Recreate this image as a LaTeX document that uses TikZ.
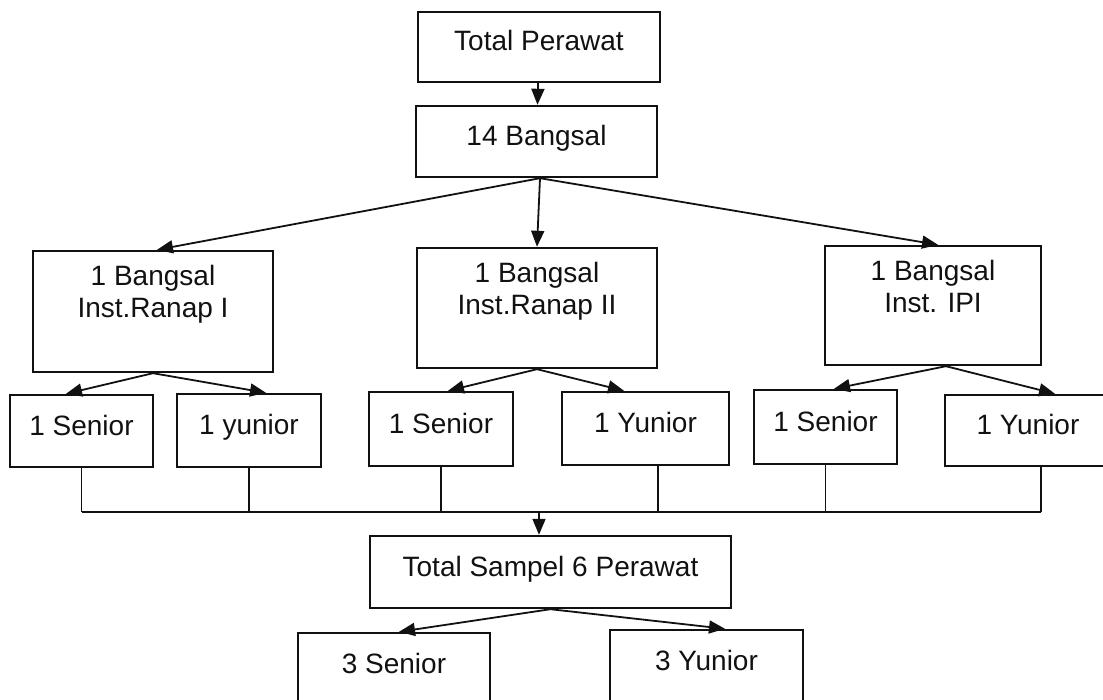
\documentclass[tikz,border=0pt]{standalone}
\usepackage{fontspec}
\setmainfont{Liberation Sans}
\usepackage{xcolor}
\usepackage{tikz}
\usetikzlibrary{positioning,arrows.meta}
\definecolor{ink}{HTML}{111111}

\begin{document}
\begin{tikzpicture}[x=0.5pt, y=-0.5pt, ink, line join=miter,
  box/.style 2 args={draw, line width=1.2pt, minimum width=#1, minimum height=#2, inner sep=0pt,
    font=\fontsize{14}{16}\selectfont, text height=10pt, text depth=6pt},
  boxtext/.style={anchor=north, inner sep=0pt, align=center, font=\fontsize{14}{16}\selectfont},
  arr/.style={-{Triangle[length=8pt,width=6.5pt]}, line width=0.9pt},
  link/.style={line width=0.9pt}]
  \useasboundingbox (0,0) rectangle (1103,700);
  \clip (0,0) rectangle (1103,700);
  % top of the tree
  \node[box={121pt}{35pt}] (tp) at (539,47) {Total Perawat};
  \node[box={120.5pt}{35.5pt}] (b14) at (536.5,141.5) {14 Bangsal};
  % three wards
  \node[box={120pt}{60.5pt}] (ri1) at (153,311.5) {};
  \node[box={120pt}{60pt}] (ri2) at (537,308) {};
  \node[box={108pt}{59.5pt}] (ipi) at (933,305.5) {};
  \node[boxtext] (ri1t) at ([yshift=-7.5pt]ri1.north) {1 Bangsal\\Inst.Ranap I};
  \node[boxtext] (ri2t) at ([yshift=-7.5pt]ri2.north) {1 Bangsal\\Inst.Ranap II};
  \node[boxtext] (ipit) at ([yshift=-7.5pt]ipi.north) {1 Bangsal\\Inst. IPI};
  % senior / yunior per ward
  \node[box={71.5pt}{36pt}] (s1) at (81.5,431) {1 Senior};
  \node[box={72pt}{36.5pt}] (y1) at (249,430.5) {1 yunior};
  \node[box={72pt}{37pt}] (s2) at (441,429) {1 Senior};
  \node[box={83.5pt}{36.5pt}] (y2) at (645.5,428.5) {1 Yunior};
  \node[box={71.5pt}{37pt}] (s3) at (825.5,427) {1 Senior};
  \node[box={83pt}{35.5pt}] (y3) at (1028,430.5) {1 Yunior};
  % sample
  \node[box={180.5pt}{36pt}] (ts) at (550.5,572) {Total Sampel 6 Perawat};
  \node[box={96pt}{36pt}] (sr3) at (394,669) {3 Senior};
  \node[box={96.5pt}{36pt}] (yr3) at (706.5,666) {3 Yunior};
  \coordinate (bus) at (539,512);

  \draw[arr] (tp) -- (b14);
  \draw[arr] ([xshift=1.75pt]b14.south) -- ([xshift=2pt]ri1.north);
  \draw[arr] ([xshift=1.75pt]b14.south) -- (ri2.north);
  \draw[arr] ([xshift=1.75pt]b14.south) -- ([xshift=2.5pt]ipi.north);
  \draw[arr] (ri1.south) -- ([xshift=-7.75pt]s1.north);
  \draw[arr] (ri1.south) -- ([xshift=8.5pt]y1.north);
  \draw[arr] (ri2.south) -- ([xshift=3.5pt]s2.north);
  \draw[arr] (ri2.south) -- ([xshift=-10.75pt]y2.north);
  \draw[arr] ([xshift=6.5pt]ipi.south) -- ([xshift=4.25pt]s3.north);
  \draw[arr] ([xshift=6.5pt]ipi.south) -- ([xshift=13.5pt]y3.north);
  % collecting line
  \foreach \n/\dx in {s1/0, y1/0, s2/0, y2/6.25, s3/0, y3/6.5}
    \draw[link] ([xshift=\dx pt]\n.south) -- ([xshift=\dx pt]\n.south |- bus);
  \draw[link] (s1.south |- bus) -- ([xshift=6.5pt]y3.south |- bus);
  \draw[arr] (bus) -- (bus |- ts.north);
  \draw[arr] (ts.south) -- ([xshift=2.5pt]sr3.north);
  \draw[arr] (ts.south) -- ([xshift=9.25pt]yr3.north);
\end{tikzpicture}
\end{document}
